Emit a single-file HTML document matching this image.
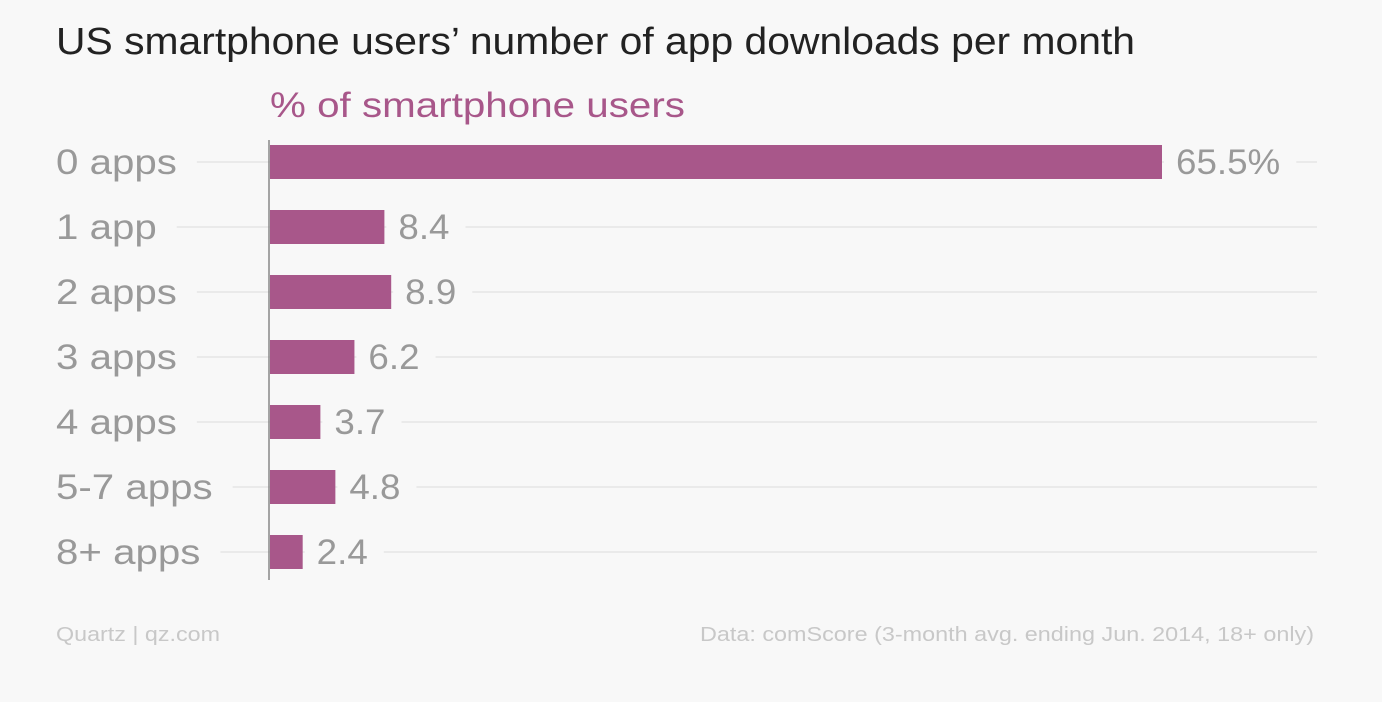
<!DOCTYPE html>
<html><head><meta charset="utf-8"><style>
html,body{margin:0;padding:0;background:#f8f8f8;}
svg{display:block;font-family:"Liberation Sans",sans-serif;}
</style></head><body>
<svg id="chart" width="1382" height="702">
<rect width="1382" height="702" fill="#f8f8f8"/>
<text x="56" y="54" font-size="38" fill="#222" textLength="1079" lengthAdjust="spacingAndGlyphs">US smartphone users’ number of app downloads per month</text>
<text x="270" y="117" font-size="35" fill="#a8578a" textLength="415" lengthAdjust="spacingAndGlyphs">% of smartphone users</text>
<g id="grid"></g>
<g id="bars"></g>
<line x1="269" x2="269" y1="140" y2="580" stroke="#888" stroke-width="1.5"/>
<text x="56" y="641" font-size="20" fill="#c8c8c8" textLength="164" lengthAdjust="spacingAndGlyphs">Quartz | qz.com</text>
<text x="700" y="641" font-size="20" fill="#c8c8c8" textLength="614" lengthAdjust="spacingAndGlyphs">Data: comScore (3-month avg. ending Jun. 2014, 18+ only)</text>
</svg>
<script>
const categories = ["0 apps","1 app","2 apps","3 apps","4 apps","5-7 apps","8+ apps"];
const values = [65.5, 8.4, 8.9, 6.2, 3.7, 4.8, 2.4];
const valueLabels = ["65.5%","8.4","8.9","6.2","3.7","4.8","2.4"];
const NS="http://www.w3.org/2000/svg";
const x0=270, xMax=65.5, pxMax=892;
const xScale=v=>x0+v/xMax*pxMax;
const yScale=i=>162+i*65;
const barH=34;
const grid=document.getElementById('grid'), bars=document.getElementById('bars');
categories.forEach((c,i)=>{
  const y=yScale(i);
  const lab=document.createElementNS(NS,'text');
  lab.setAttribute('x',56);lab.setAttribute('y',y+12);
  lab.setAttribute('font-size',35);lab.setAttribute('fill','#999');
  lab.textContent=c;
  
  
  bars.appendChild(lab);
  const lw=lab.getComputedTextLength()*1.15;
  lab.setAttribute('textLength',lw);
  lab.setAttribute('lengthAdjust','spacingAndGlyphs');
  const gl=document.createElementNS(NS,'line');
  gl.setAttribute('x1',56+lw+20);gl.setAttribute('x2',1317);
  gl.setAttribute('y1',y);gl.setAttribute('y2',y);
  gl.setAttribute('stroke','#e6e6e6');gl.setAttribute('stroke-width',1.5);
  
  
  grid.appendChild(gl);
  const r=document.createElementNS(NS,'rect');
  r.setAttribute('x',x0);r.setAttribute('y',y-barH/2);
  r.setAttribute('width',xScale(values[i])-x0);r.setAttribute('height',barH);
  r.setAttribute('fill','#a8578a');
  
  
  bars.appendChild(r);
  const bg=document.createElementNS(NS,'rect');
  bars.appendChild(bg);
  const t=document.createElementNS(NS,'text');
  const tx=xScale(values[i])+14;
  t.setAttribute('x',tx);t.setAttribute('y',y+12);
  t.setAttribute('font-size',35);t.setAttribute('fill','#999');
  t.textContent=valueLabels[i];
  
  
  bars.appendChild(t);
  const tw=t.getComputedTextLength()*1.05;
  t.setAttribute('textLength',tw);
  t.setAttribute('lengthAdjust','spacingAndGlyphs');
  bg.setAttribute('x',tx-12);bg.setAttribute('y',y-6);
  bg.setAttribute('width',tw+28);bg.setAttribute('height',12);
  bg.setAttribute('fill','#f8f8f8');
});
</script>
</body></html>
